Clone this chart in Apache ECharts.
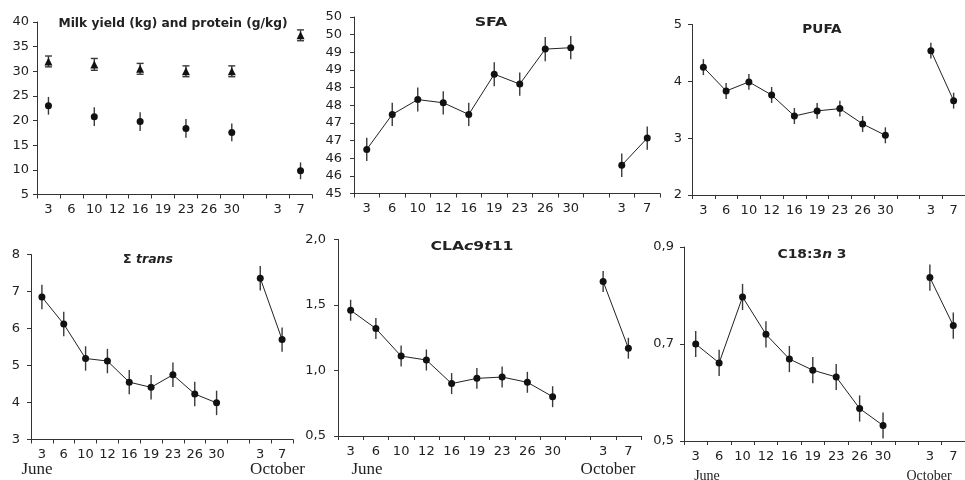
<!DOCTYPE html>
<html><head><meta charset="utf-8">
<script src="https://cdn.jsdelivr.net/npm/echarts@6/dist/echarts.min.js"></script>
<style>html,body{margin:0;padding:0;background:#fff}#c{width:965px;height:480px}</style>
</head><body><div id="c"></div>
<script>
// ---------- data ----------
const categories = ['3','6','10','12','16','19','23','26','30','','3','7'];

const proteinMean = [32.0,null,31.4,null,30.5,null,30.0,null,30.0,null,null,37.3];
const proteinErr  = [1.1,null,1.2,null,1.1,null,1.1,null,1.1,null,null,1.1];
const milkMean    = [23.0,null,20.8,null,19.8,null,18.4,null,17.6,null,null,9.8];
const milkErr     = [1.8,null,1.9,null,1.9,null,1.9,null,1.8,null,null,1.7];

const sfaMean  = [46.25,47.24,47.66,47.57,47.24,48.38,48.10,49.09,49.13,null,45.80,46.57];
const sfaErr   = [0.33,0.33,0.34,0.33,0.33,0.34,0.33,0.34,0.33,null,0.33,0.33];

const pufaMean = [4.25,3.83,3.99,3.76,3.39,3.48,3.52,3.25,3.05,null,4.54,3.66];
const pufaErr  = [0.14,0.14,0.14,0.14,0.14,0.14,0.14,0.14,0.14,null,0.14,0.14];

const transMean = [6.85,6.12,5.19,5.12,4.55,4.41,4.75,4.23,3.99,null,7.36,5.70];
const transErr  = [0.33,0.33,0.33,0.33,0.33,0.33,0.33,0.33,0.33,null,0.33,0.33];

const claMean = [1.46,1.32,1.11,1.08,0.90,0.94,0.95,0.91,0.80,null,1.68,1.17];
const claErr  = [0.08,0.08,0.08,0.08,0.08,0.08,0.08,0.08,0.08,null,0.08,0.08];

const alaMean = [0.700,0.661,0.797,0.720,0.669,0.646,0.632,0.567,0.532,null,0.837,0.738];
const alaErr  = [0.027,0.027,0.027,0.027,0.027,0.027,0.027,0.027,0.027,null,0.027,0.027];

// y-axis ranges [min, max, interval]
const yRanges = [[5,40,5],[45,50,0.5],[2,5,1],[3,8,1],[0.5,2,0.5],[0.5,0.9,0.2]];

// ---------- layout ----------
const grids = [
  {left:37,  top:22,    width:275, height:172.5},
  {left:354, top:17,    width:306, height:176.5},
  {left:692, top:24.5,  width:280, height:170.5},
  {left:31,  top:254.5, width:262, height:185},
  {left:338, top:239.5, width:303, height:196.5},
  {left:684, top:247,   width:289, height:194}
];
const yLabelMargins = [8,12,10,11,12,10];
const FONT = 'DejaVu Sans';
const TXT = '#222';

const comma = v => v.toFixed(1).replace('.', ',');
const yFormatters = [
  v => String(v),
  v => String(Math.round(v)),
  v => String(v),
  v => String(v),
  comma,
  comma
];

const xAxes = grids.map((g,i) => ({
  type:'category', gridIndex:i, data:categories, boundaryGap:true,
  axisLine:{lineStyle:{color:'#333',width:1}},
  axisTick:{show:true, length:4, interval:0, lineStyle:{color:'#333'}},
  axisLabel:{interval:0, margin:9, color:TXT, fontFamily:FONT, fontSize:13},
  splitLine:{show:false}
}));
const yAxes = grids.map((g,i) => ({
  type:'value', gridIndex:i, min:yRanges[i][0], max:yRanges[i][1], interval:yRanges[i][2],
  axisLine:{show:true, lineStyle:{color:'#333',width:1}},
  axisTick:{show:true, length:4, lineStyle:{color:'#333'}},
  axisLabel:{margin:yLabelMargins[i], color:TXT, fontFamily:FONT, fontSize:13, formatter:yFormatters[i]},
  splitLine:{show:false}
}));

function errData(mean, err){
  const out = [];
  mean.forEach((m,i) => { if (m != null) out.push([i, m - err[i], m + err[i]]); });
  return out;
}
function lineData(mean){ return mean.map(v => v == null ? '-' : v); }

function errSeries(idx, mean, err, cap){
  return {
    type:'custom', xAxisIndex:idx, yAxisIndex:idx, z:1, silent:true,
    encode:{x:0, y:[1,2]},
    data: errData(mean, err),
    renderItem: function(params, api){
      const x = api.value(0);
      const lo = api.coord([x, api.value(1)]);
      const hi = api.coord([x, api.value(2)]);
      const st = {stroke:'#3a3a3a', lineWidth:1.4};
      const ch = [{type:'line', shape:{x1:lo[0],y1:lo[1],x2:hi[0],y2:hi[1]}, style:st}];
      if (cap){
        ch.push({type:'line', shape:{x1:lo[0]-3.5,y1:lo[1],x2:lo[0]+3.5,y2:lo[1]}, style:st});
        ch.push({type:'line', shape:{x1:hi[0]-3.5,y1:hi[1],x2:hi[0]+3.5,y2:hi[1]}, style:st});
      }
      return {type:'group', children:ch};
    }
  };
}
function lineSeries(idx, mean){
  return {
    type:'line', xAxisIndex:idx, yAxisIndex:idx, z:3,
    data: lineData(mean), connectNulls:false,
    symbol:'circle', symbolSize:7, showSymbol:true,
    itemStyle:{color:'#111'}, lineStyle:{color:'#222', width:1},
    emphasis:{disabled:true}
  };
}
function scatterSeries(idx, mean, symbol, size){
  return {
    type:'scatter', xAxisIndex:idx, yAxisIndex:idx, z:3,
    data: mean.map((v,i) => v == null ? null : [i, v]).filter(Boolean),
    symbol:symbol, symbolSize:size, itemStyle:{color:'#111', opacity:1},
    emphasis:{disabled:true}
  };
}

const series = [
  errSeries(0, proteinMean, proteinErr, true),
  scatterSeries(0, proteinMean, 'triangle', 8),
  errSeries(0, milkMean, milkErr, false),
  scatterSeries(0, milkMean, 'circle', 7),
  errSeries(1, sfaMean, sfaErr, false),  lineSeries(1, sfaMean),
  errSeries(2, pufaMean, pufaErr, false), lineSeries(2, pufaMean),
  errSeries(3, transMean, transErr, false), lineSeries(3, transMean),
  errSeries(4, claMean, claErr, false),  lineSeries(4, claMean),
  errSeries(5, alaMean, alaErr, false),  lineSeries(5, alaMean)
];

const richB = {fontFamily:FONT, fontWeight:'bold', fontSize:12.5, fill:TXT, color:TXT};
const richBI = {fontFamily:FONT, fontWeight:'bold', fontStyle:'italic', fontSize:12.5, fill:TXT, color:TXT};
function title(x, y, text, sx){
  return {type:'text', x:x, y:y, scaleX:sx || 1, z:10,
    style:{text:text, textAlign:'center', textVerticalAlign:'middle',
      rich:{b:richB, bi:richBI}, fill:TXT}};
}
function serif(x, y, text, size){
  return {type:'text', x:x, y:y, z:10,
    style:{text:text, textAlign:'center', textVerticalAlign:'middle',
      font:size + 'px "Liberation Serif", "Times New Roman", serif', fill:TXT}};
}

const graphics = [
  title(173, 24, '{b|Milk yield (kg) and protein (g/kg)}', 0.98),
  title(491, 23, '{b|SFA}', 1.27),
  title(822, 30, '{b|PUFA}', 1.09),
  title(148, 260, '{b|Σ }{bi|trans}', 1.0),
  title(472, 247, '{b|CLA}{bi|c}{b|9}{bi|t}{b|11}', 1.25),
  title(812, 255, '{b|C18:3}{bi|n}{b| 3}', 1.11),
  serif(37, 470, 'June', 17),
  serif(277.5, 470, 'October', 17),
  serif(367, 470, 'June', 17),
  serif(608, 470, 'October', 17),
  serif(707, 476, 'June', 14),
  serif(929, 476, 'October', 14)
];

const chart = echarts.init(document.getElementById('c'), null, {renderer:'canvas'});
chart.setOption({
  animation:false,
  backgroundColor:'#fff',
  grid: grids,
  xAxis: xAxes,
  yAxis: yAxes,
  series: series,
  graphic: graphics
});
</script></body></html>
